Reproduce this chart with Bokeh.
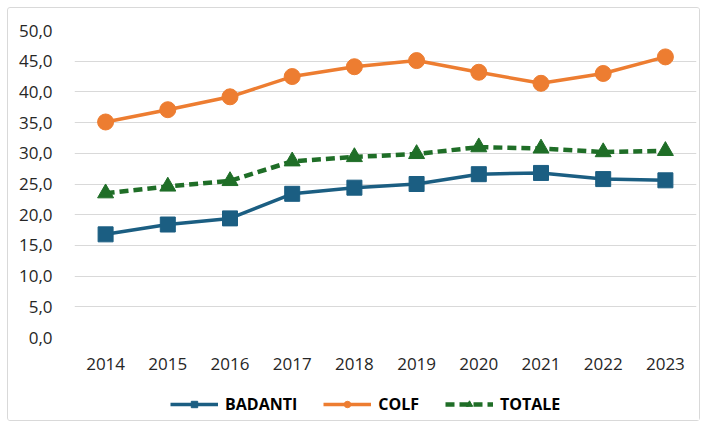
from bokeh.plotting import figure
from bokeh.models import ColumnDataSource, Range1d, FixedTicker, Legend, LegendItem
from bokeh.layouts import column
from bokeh.embed import file_html
from bokeh.resources import INLINE

years = [2014, 2015, 2016, 2017, 2018, 2019, 2020, 2021, 2022, 2023]
badanti = [16.8, 18.4, 19.4, 23.4, 24.4, 25.0, 26.6, 26.8, 25.8, 25.6]
colf = [35.1, 37.1, 39.2, 42.5, 44.1, 45.1, 43.2, 41.4, 43.0, 45.7]
totale = [23.5, 24.6, 25.5, 28.7, 29.4, 29.9, 31.0, 30.8, 30.2, 30.4]
y_ticks = [0, 5, 10, 15, 20, 25, 30, 35, 40, 45, 50]
y_tick_labels = ["0,0", "5,0", "10,0", "15,0", "20,0", "25,0", "30,0", "35,0", "40,0", "45,0", "50,0"]
series_names = ["BADANTI", "COLF", "TOTALE"]

FONT = "Open Sans"

src = ColumnDataSource(dict(x=years, badanti=badanti, colf=colf, totale=totale))

p = figure(width=691, height=372, output_backend="svg", toolbar_location=None,
           x_range=Range1d(2013.5, 2023.5), y_range=Range1d(0, 50),
           min_border_left=66, min_border_right=3, min_border_top=22, min_border_bottom=43)
p.outline_line_color = None
p.background_fill_color = "white"

p.xgrid.grid_line_color = None
p.ygrid.grid_line_color = "#d9d9d9"
p.ygrid.grid_line_width = 1

p.yaxis.ticker = FixedTicker(ticks=y_ticks)
p.yaxis.major_label_overrides = {t: l for t, l in zip(y_ticks, y_tick_labels)}
p.xaxis.ticker = FixedTicker(ticks=years)
p.xaxis.major_label_overrides = {y: str(y) for y in years}
for ax in (p.xaxis, p.yaxis):
    ax.axis_line_color = None
    ax.major_tick_line_color = None
    ax.minor_tick_line_color = None
    ax.major_label_text_font = FONT
    ax.major_label_text_font_size = "17px"
    ax.major_label_text_color = "#262626"
p.yaxis.major_label_standoff = 16
p.xaxis.major_label_standoff = 14

c_b, c_c, c_t = "#1b5e82", "#ed7d31", "#1f6e27"
styles = [
    (c_b, 3.5, "solid", "square", 15),
    (c_c, 3.5, "solid", "circle", 16),
    (c_t, 4.5, "9 5", "triangle", 16),
]
cols = ["badanti", "colf", "totale"]
for col_name, (c, lw, dash, mk, sz) in zip(cols, styles):
    p.line("x", col_name, source=src, line_color=c, line_width=lw, line_dash=dash)
    p.scatter("x", col_name, source=src, marker=mk, size=sz, fill_color=c, line_color=c)

# legend strip below the chart (its proxy renderers fall outside its own ranges)
p2 = figure(width=691, height=40, output_backend="svg", toolbar_location=None,
            x_range=Range1d(0, 1), y_range=Range1d(0, 1),
            x_axis_type=None, y_axis_type=None, min_border=0)
p2.outline_line_color = None
p2.xgrid.grid_line_color = None
p2.ygrid.grid_line_color = None
items = []
for name, col_name, (c, lw, dash, mk, sz) in zip(series_names, cols, styles):
    r1 = p2.line("x", col_name, source=src, line_color=c, line_width=lw, line_dash=dash)
    r2 = p2.scatter("x", col_name, source=src, marker=mk, size=sz, fill_color=c, line_color=c)
    items.append(LegendItem(label=name, renderers=[r1, r2]))

legend = Legend(items=items, orientation="horizontal", location=(96, 5),
                label_text_font=FONT, label_text_font_style="bold", label_text_font_size="16px",
                label_text_color="#000000", glyph_width=48, glyph_height=16,
                spacing=26, label_standoff=7, border_line_color=None,
                background_fill_alpha=0, margin=0, padding=0)
p2.add_layout(legend, "center")

layout = column(p, p2, spacing=0,
                styles={"border": "1px solid #d9d9d9", "border-radius": "3px", "margin": "7px 0 0 7px"})

open("out.html", "w").write(file_html(layout, INLINE))
